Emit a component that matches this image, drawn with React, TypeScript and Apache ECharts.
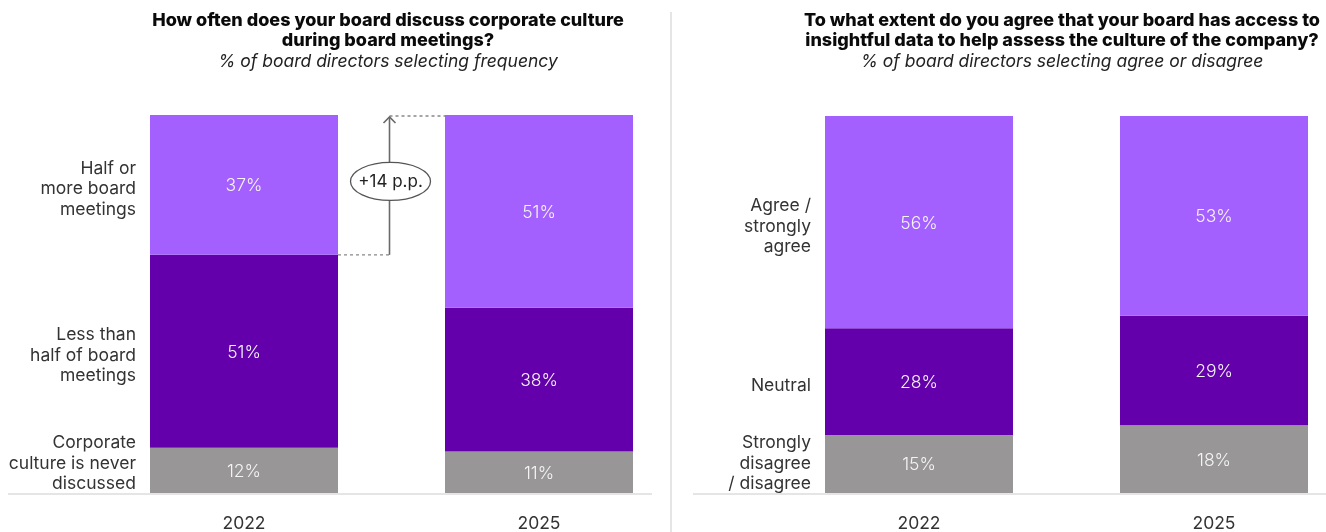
import React, { useEffect, useRef } from 'react';
import * as echarts from 'echarts';

const years = ['2022', '2025'];
// Left chart: how often board discusses culture (% of directors)
const freqNever = [12, 11];
const freqLess = [51, 38];
const freqHalf = [37, 51];
// Right chart: access to insightful data (% of directors)
const dataDisagree = [15.4, 18];
const dataNeutral = [28.3, 29];
const dataAgree = [56.3, 53];

const freqLabels = ['Corporate\nculture is never\ndiscussed', 'Less than\nhalf of board\nmeetings', 'Half or\nmore board\nmeetings'];
const dataLabels = ['Strongly\ndisagree\n/ disagree', 'Neutral', 'Agree /\nstrongly\nagree'];
const leftTitle = ['How often does your board discuss corporate culture', 'during board meetings?'];
const leftSub = '% of board directors selecting frequency';
const rightTitle = ['To what extent do you agree that your board has access to', 'insightful data to help assess the culture of the company?'];
const rightSub = '% of board directors selecting agree or disagree';
const changeLabel = '+14 p.p.';

const LIGHT = '#A45FFF';
const DARK = '#6300AC';
const GRAY = '#989696';
const FONT = 'Inter, "Noto Sans", sans-serif';
const BAR_W = 188;
const FS = 17.5;

export default function App() {
  const ref = useRef<HTMLDivElement>(null);
  useEffect(() => {
    if (!ref.current) return;
    const chart = echarts.init(ref.current, undefined, { renderer: 'svg' });
    const valLabel = {
      show: true,
      position: 'inside',
      color: '#f4f4f4',
      fontSize: FS,
      fontFamily: FONT,
      fontWeight: 300,
      formatter: (p: any) => Math.round(p.value) + '%',
    };
    const mk = (name: string, data: number[], color: string, idx: number, stack: string) => ({
      name,
      type: 'bar',
      stack,
      xAxisIndex: idx,
      yAxisIndex: idx,
      barWidth: BAR_W,
      data,
      itemStyle: { color },
      label: valLabel,
      emphasis: { disabled: true },
    });
    const xAxisBase = {
      type: 'category',
      data: years,
      boundaryGap: false,
      axisLine: { show: false },
      axisTick: { show: false },
      splitLine: { show: false },
      axisLabel: { color: '#333', fontSize: FS, fontFamily: FONT, margin: 20 },
    };
    chart.setOption({
      animation: false,
      grid: [
        { left: 244, width: 295, top: 115, height: 378 },
        { left: 919, width: 295, top: 116, height: 377 },
      ],
      xAxis: [
        { ...xAxisBase, gridIndex: 0 },
        { ...xAxisBase, gridIndex: 1 },
      ],
      yAxis: [
        { type: 'value', gridIndex: 0, min: 0, max: 100, show: false },
        { type: 'value', gridIndex: 1, min: 0, max: 100, show: false },
      ],
      series: [
        mk('never', freqNever, GRAY, 0, 'L'),
        mk('less', freqLess, DARK, 0, 'L'),
        mk('half', freqHalf, LIGHT, 0, 'L'),
        mk('disagree', dataDisagree, GRAY, 1, 'R'),
        mk('neutral', dataNeutral, DARK, 1, 'R'),
        mk('agree', dataAgree, LIGHT, 1, 'R'),
      ],
    });

    const px = (g: number, cat: string, v: number) =>
      chart.convertToPixel({ gridIndex: g } as any, [cat, v]) as number[];

    const graphics: any[] = [];
    const txt = (x: number, y: number, text: string, style: any) =>
      graphics.push({
        type: 'text',
        x,
        y,
        z: 10,
        style: { text, fontFamily: FONT, fill: '#222', verticalAlign: 'middle', ...style },
      });

    // Titles
    const titles = [
      { cx: 388, t: leftTitle, s: leftSub },
      { cx: 1062, t: rightTitle, s: rightSub },
    ];
    titles.forEach(({ cx, t, s }) => {
      txt(cx, 19, t[0], { align: 'center', fontSize: 18, fontWeight: 800, fill: '#0a0a0a' });
      txt(cx, 39.5, t[1], { align: 'center', fontSize: 18, fontWeight: 800, fill: '#0a0a0a' });
      txt(cx, 60, s, { align: 'center', fontSize: FS, fontStyle: 'italic', fill: '#222' });
    });

    // Category labels next to the 2022 bar, centred on each segment
    const LH = 20.5;
    const catLabels = (g: number, labels: string[], stacks: number[][]) => {
      const base = px(g, years[0], 0);
      const left = base[0] - BAR_W / 2 - 14;
      let cum = 0;
      labels.forEach((lab, i) => {
        const v = stacks[i][0];
        const y0 = px(g, years[0], cum)[1];
        const y1 = px(g, years[0], cum + v)[1];
        cum += v;
        const lines = lab.split('\n').length;
        let cy = (y0 + y1) / 2 + 3;
        cy = Math.min(cy, base[1] - (lines * LH) / 2);
        txt(left, cy, lab, { align: 'right', fontSize: FS, lineHeight: LH, fill: '#333' });
      });
    };
    catLabels(0, freqLabels, [freqNever, freqLess, freqHalf]);
    catLabels(1, dataLabels, [dataDisagree, dataNeutral, dataAgree]);

    // Baselines and divider
    const baseY = Math.round(px(0, years[0], 0)[1]) + 1;
    const lineStyle = { stroke: '#dddddd', lineWidth: 1.5 };
    graphics.push({ type: 'line', shape: { x1: 8, y1: baseY, x2: 652, y2: baseY }, style: lineStyle });
    graphics.push({ type: 'line', shape: { x1: 693, y1: baseY, x2: 1326, y2: baseY }, style: lineStyle });
    graphics.push({ type: 'line', shape: { x1: 671, y1: 12, x2: 671, y2: 532 }, style: lineStyle });

    // Change annotation (+14 p.p.) between the "half or more" segments
    const b22 = px(0, years[0], freqNever[0] + freqLess[0]);
    const t25 = px(0, years[1], freqNever[1] + freqLess[1] + freqHalf[1]);
    const x22r = b22[0] + BAR_W / 2;
    const x25l = t25[0] - BAR_W / 2;
    const ax = (x22r + x25l) / 2 - 2;
    const yb = b22[1];
    const yt = t25[1] + 1;
    const dash = { stroke: '#888', lineWidth: 1.3, lineDash: [3, 3] };
    const arrowStyle = { stroke: '#6a6a6a', lineWidth: 1.6, fill: 'none' };
    graphics.push({ type: 'line', shape: { x1: x22r, y1: yb, x2: ax, y2: yb }, style: dash });
    graphics.push({ type: 'line', shape: { x1: ax, y1: yt, x2: x25l, y2: yt }, style: dash });
    graphics.push({ type: 'line', shape: { x1: ax, y1: yb, x2: ax, y2: yt + 1 }, style: arrowStyle });
    graphics.push({
      type: 'polyline',
      shape: { points: [[ax - 6, yt + 7], [ax, yt + 1], [ax + 6, yt + 7]] },
      style: arrowStyle,
    });
    const ecy = (yb + yt) / 2 - 4;
    graphics.push({
      type: 'ellipse',
      z: 9,
      shape: { cx: ax + 1, cy: ecy, rx: 40, ry: 19 },
      style: { fill: '#fff', stroke: '#555', lineWidth: 1.3 },
    });
    txt(ax + 1, ecy, changeLabel, { align: 'center', fontSize: 17, fill: '#222' });

    chart.setOption({ graphic: graphics });

    return () => chart.dispose();
  }, []);
  return <div ref={ref} style={{ position: 'fixed', left: 0, top: 0, width: 1326, height: 532 }} />;
}
